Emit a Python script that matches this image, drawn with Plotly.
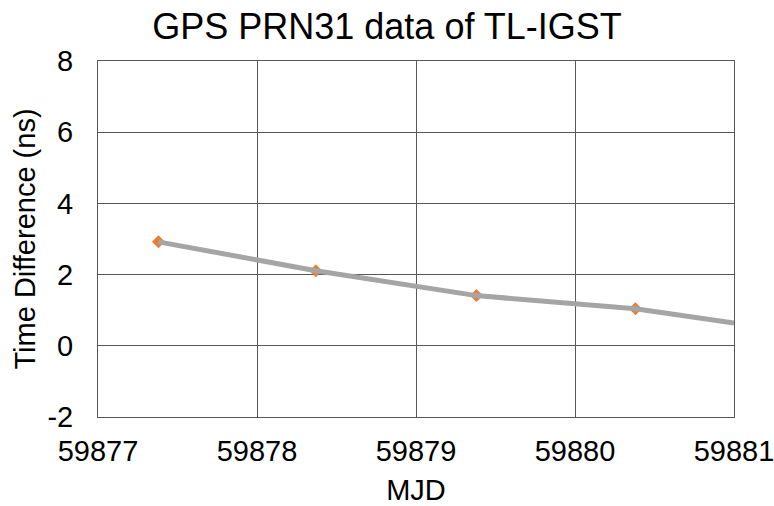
import plotly.graph_objects as go

mjd = [59877.38, 59878.37, 59879.38, 59880.38]
time_diff = [2.92, 2.11, 1.41, 1.04]
line_mjd = [59877.38, 59878.37, 59879.38, 59880.38, 59881.0]
line_vals = [2.92, 2.11, 1.41, 1.04, 0.64]
x_ticks = [59877, 59878, 59879, 59880, 59881]
y_ticks = [-2, 0, 2, 4, 6, 8]
y_tick_labels = ["-2", "0", "2", "4", "6", "8"]

FONT = "Liberation Sans, Arial, sans-serif"
GRID = "#595959"
W, H = 774, 506

fig = go.Figure()
fig.add_trace(go.Scatter(x=mjd, y=time_diff, mode="markers",
                         marker=dict(symbol="diamond", size=10, color="#ED7D31"),
                         showlegend=False))
fig.add_trace(go.Scatter(x=line_mjd, y=line_vals, mode="lines",
                         line=dict(color="#A5A5A5", width=5),
                         showlegend=False))

fig.update_layout(
    width=W, height=H,
    paper_bgcolor="white", plot_bgcolor="white",
    margin=dict(l=98, r=40, t=61, b=89),
    title=dict(text="GPS PRN31 data of TL-IGST", x=387 / W, xanchor="center",
               xref="container", y=1 - 26 / H, yref="container", yanchor="middle",
               font=dict(family=FONT, size=36, color="black")),
    font=dict(family=FONT, color="black"),
)
fig.update_xaxes(range=[59877, 59881], tickvals=x_ticks,
                 ticktext=[str(v) for v in x_ticks],
                 showgrid=True, gridcolor=GRID, gridwidth=1,
                 showline=True, linecolor=GRID, linewidth=1, mirror=True,
                 zeroline=False, ticks="", ticklabelstandoff=8, automargin=False,
                 ticklabeloverflow="allow",
                 tickfont=dict(family=FONT, size=29, color="black"),
                 title=dict(text="MJD", font=dict(family=FONT, size=29, color="black")))
fig.update_yaxes(range=[-2, 8], tickvals=y_ticks, ticktext=y_tick_labels,
                 showgrid=True, gridcolor=GRID, gridwidth=1,
                 showline=True, linecolor=GRID, linewidth=1, mirror=True,
                 zeroline=False, ticks="", ticklabelstandoff=18, automargin=True,
                 tickfont=dict(family=FONT, size=29, color="black"),
                 title=dict(text="Time Difference (ns)", standoff=3,
                            font=dict(family=FONT, size=29, color="black")))

fig.write_html("out.html", config={"displayModeBar": False},
               post_script="document.body.style.margin='0';document.body.style.overflow='hidden';")
